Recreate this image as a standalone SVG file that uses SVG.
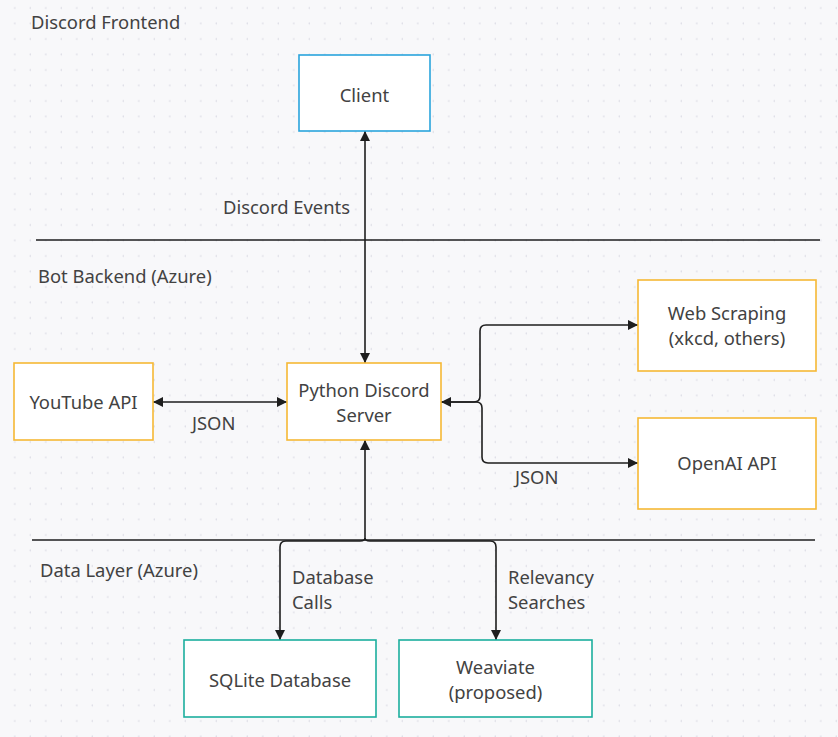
<svg xmlns="http://www.w3.org/2000/svg" width="838" height="737" viewBox="0 0 838 737">
<defs>
<pattern id="dots" x="0" y="0" width="15.5" height="15.5" patternUnits="userSpaceOnUse">
<circle cx="15" cy="8" r="1" fill="#dedee6"/>
</pattern>
<marker id="arr" viewBox="0 0 10 10" refX="10" refY="5" markerWidth="10" markerHeight="10" markerUnits="userSpaceOnUse" orient="auto-start-reverse">
<path d="M0,0 L10,5 L0,10 z" fill="#1e1e1e"/>
</marker>
<style>
text{font-family:"Noto Sans","Open Sans","DejaVu Sans",sans-serif;font-size:18.4px;fill:#424242}
.n{fill:#ffffff;stroke-width:1.6}
.blue{stroke:#2aa4dc}
.orange{stroke:#f6b835}
.teal{stroke:#1cae9e}
.c{fill:none;stroke:#1e1e1e;stroke-width:1.6}
.sep{stroke:#1e1e1e;stroke-width:1.4}
.m{text-anchor:middle}
</style>
</defs>
<rect width="838" height="737" fill="#f8f8fa"/>
<rect width="838" height="737" fill="url(#dots)"/>

<g id="labels">
<text x="31" y="29">Discord Frontend</text>
<text x="38" y="283">Bot Backend (Azure)</text>
<text x="40" y="577">Data Layer (Azure)</text>
</g>

<g id="separators">
<line class="sep" x1="36" y1="240" x2="820" y2="240"/>
<line class="sep" x1="32" y1="540" x2="815" y2="540"/>
</g>

<g id="connectors">
<line class="c" x1="365" y1="131" x2="365" y2="363" marker-start="url(#arr)" marker-end="url(#arr)"/>
<text x="223" y="214">Discord Events</text>
<line class="c" x1="153" y1="402" x2="287" y2="402" marker-start="url(#arr)" marker-end="url(#arr)"/>
<text x="192" y="430">JSON</text>
<path class="c" d="M441,402 H474 Q480,402 480,396 V331 Q480,325 486,325 H638" marker-start="url(#arr)" marker-end="url(#arr)"/>
<path class="c" d="M441,402 H476 Q482,402 482,408 V457 Q482,463 488,463 H638" marker-end="url(#arr)"/>
<text x="515" y="484">JSON</text>
<path class="c" d="M365,440 V538" marker-start="url(#arr)"/>
<path class="c" d="M365,538 Q365,541 360,541 H286 Q280,541 280,547 V640" marker-end="url(#arr)"/>
<path class="c" d="M365,538 Q365,541 370,541 H490 Q496,541 496,547 V640" marker-end="url(#arr)"/>
<text x="292" y="584">Database</text>
<text x="292" y="609">Calls</text>
<text x="508" y="584">Relevancy</text>
<text x="508" y="609">Searches</text>
</g>

<g id="client">
<rect class="n blue" x="299" y="55" width="131" height="76"/>
<text class="m" x="364.5" y="102">Client</text>
</g>
<g id="youtube">
<rect class="n orange" x="14" y="363" width="139" height="77"/>
<text class="m" x="83.5" y="409">YouTube API</text>
</g>
<g id="python">
<rect class="n orange" x="287" y="363" width="154" height="77"/>
<text class="m" x="364" y="397">Python Discord</text>
<text class="m" x="364" y="422">Server</text>
</g>
<g id="webscraping">
<rect class="n orange" x="638" y="280" width="178" height="91"/>
<text class="m" x="727" y="320">Web Scraping</text>
<text class="m" x="727" y="345">(xkcd, others)</text>
</g>
<g id="openai">
<rect class="n orange" x="638" y="418" width="178" height="91"/>
<text class="m" x="727" y="470">OpenAI API</text>
</g>
<g id="sqlite">
<rect class="n teal" x="184" y="640" width="192" height="77"/>
<text class="m" x="280" y="687">SQLite Database</text>
</g>
<g id="weaviate">
<rect class="n teal" x="399" y="640" width="193" height="77"/>
<text class="m" x="495.5" y="674">Weaviate</text>
<text class="m" x="495.5" y="699">(proposed)</text>
</g>
</svg>
